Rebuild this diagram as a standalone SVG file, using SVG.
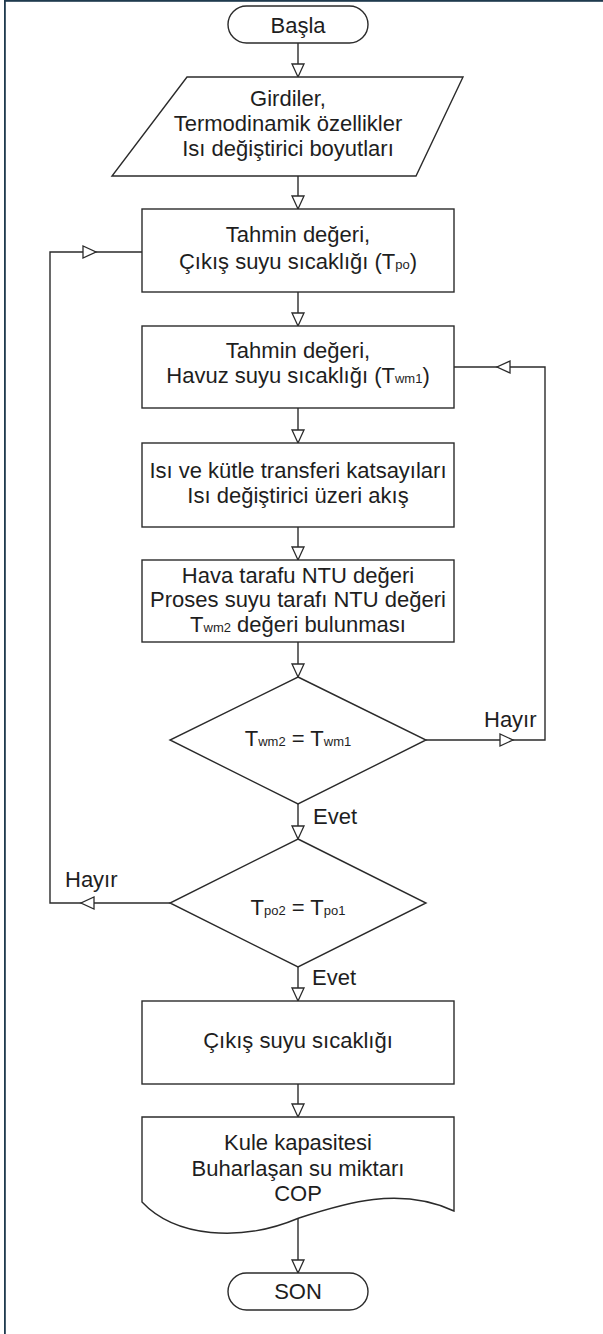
<svg xmlns="http://www.w3.org/2000/svg" xmlns:xlink="http://www.w3.org/1999/xlink" width="603" height="1334" viewBox="0 0 603 1334">
<style>
.s{fill:#fff;stroke:#2b2b2b;stroke-width:1.4}
.c{fill:none;stroke:#2b2b2b;stroke-width:1.4}
.t{font-family:"Liberation Sans",Arial,sans-serif;font-size:22px;fill:#1e1e1e;text-anchor:middle}
.l{font-family:"Liberation Sans",Arial,sans-serif;font-size:22px;fill:#1e1e1e}
.sub{font-size:13px}
</style>
<defs>
<path id="ah" d="M-6,-13 L6,-13 L0,0 Z" fill="#fff" stroke="#2b2b2b" stroke-width="1.3"/>
</defs>
<rect x="0" y="0" width="603" height="1334" fill="#fff"/>
<rect x="4" y="0" width="1.8" height="1334" fill="#1f3a4e"/>
<rect x="4" y="0" width="599" height="1.8" fill="#1f3a4e"/>

<g id="connectors">
<path class="c" d="M298,43 V77"/>
<path class="c" d="M298,176 V209"/>
<path class="c" d="M298,292 V326"/>
<path class="c" d="M298,408 V443"/>
<path class="c" d="M298,527 V560"/>
<path class="c" d="M298,642 V677"/>
<path class="c" d="M298,804 V839"/>
<path class="c" d="M298,967 V1001"/>
<path class="c" d="M298,1084 V1117"/>
<path class="c" d="M298,1218 V1273"/>
<path class="c" d="M426,740 H545 V367 H454"/>
<path class="c" d="M170,903 H50 V252 H142"/>
<use xlink:href="#ah" transform="translate(298,77)"/>
<use xlink:href="#ah" transform="translate(298,209)"/>
<use xlink:href="#ah" transform="translate(298,326)"/>
<use xlink:href="#ah" transform="translate(298,443)"/>
<use xlink:href="#ah" transform="translate(298,560)"/>
<use xlink:href="#ah" transform="translate(298,677)"/>
<use xlink:href="#ah" transform="translate(298,839)"/>
<use xlink:href="#ah" transform="translate(298,1001)"/>
<use xlink:href="#ah" transform="translate(298,1117)"/>
<use xlink:href="#ah" transform="translate(298,1273)"/>
<use xlink:href="#ah" transform="translate(513,740) rotate(-90)"/>
<use xlink:href="#ah" transform="translate(497,367) rotate(90)"/>
<use xlink:href="#ah" transform="translate(81,903) rotate(90)"/>
<use xlink:href="#ah" transform="translate(96,252) rotate(-90)"/>
<text class="l" x="484" y="727">Hayır</text>
<text class="l" x="65" y="887">Hayır</text>
<text class="l" x="313" y="824">Evet</text>
<text class="l" x="312" y="985">Evet</text>
</g>

<g id="start">
<rect class="s" x="228" y="6" width="140" height="37" rx="18.5"/>
<text class="t" x="298" y="33">Başla</text>
</g>

<g id="inputs">
<polygon class="s" points="187,77 463,77 416,176 112,176"/>
<text class="t" x="288" y="106">Girdiler,</text>
<text class="t" x="288" y="131">Termodinamik özellikler</text>
<text class="t" x="288" y="156">Isı değiştirici boyutları</text>
</g>

<g id="guess-tpo">
<rect class="s" x="142" y="209" width="312" height="83"/>
<text class="t" x="298" y="242">Tahmin değeri,</text>
<text class="t" x="298" y="269">Çıkış suyu sıcaklığı (T<tspan class="sub">po</tspan>)</text>
</g>

<g id="guess-twm">
<rect class="s" x="142" y="326" width="312" height="82"/>
<text class="t" x="298" y="358">Tahmin değeri,</text>
<text class="t" x="298" y="383">Havuz suyu sıcaklığı (T<tspan class="sub">wm1</tspan>)</text>
</g>

<g id="coefficients">
<rect class="s" x="142" y="443" width="312" height="84"/>
<text class="t" x="298" y="478">Isı ve kütle transferi katsayıları</text>
<text class="t" x="298" y="503">Isı değiştirici üzeri akış</text>
</g>

<g id="ntu">
<rect class="s" x="142" y="560" width="312" height="82"/>
<text class="t" x="298" y="583">Hava tarafu NTU değeri</text>
<text class="t" x="298" y="607">Proses suyu tarafı NTU değeri</text>
<text class="t" x="298" y="632">T<tspan class="sub">wm2</tspan> değeri bulunması</text>
</g>

<g id="check-twm">
<polygon class="s" points="298,677 426,740 298,804 170,740"/>
<text class="t" x="298" y="746">T<tspan class="sub">wm2</tspan> = T<tspan class="sub">wm1</tspan></text>
</g>

<g id="check-tpo">
<polygon class="s" points="298,839 426,903 298,967 170,903"/>
<text class="t" x="298" y="915">T<tspan class="sub">po2</tspan> = T<tspan class="sub">po1</tspan></text>
</g>

<g id="outlet">
<rect class="s" x="142" y="1001" width="312" height="83"/>
<text class="t" x="298" y="1048">Çıkış suyu sıcaklığı</text>
</g>

<g id="results">
<path class="s" d="M142,1117 H454 V1211 C400,1186 345,1203 299,1218 C240,1243 175,1237 142,1202 Z"/>
<text class="t" x="298" y="1150">Kule kapasitesi</text>
<text class="t" x="298" y="1176">Buharlaşan su miktarı</text>
<text class="t" x="298" y="1201">COP</text>
</g>

<g id="end">
<rect class="s" x="228" y="1273" width="140" height="37" rx="18.5"/>
<text class="t" x="298" y="1299">SON</text>
</g>
</svg>
